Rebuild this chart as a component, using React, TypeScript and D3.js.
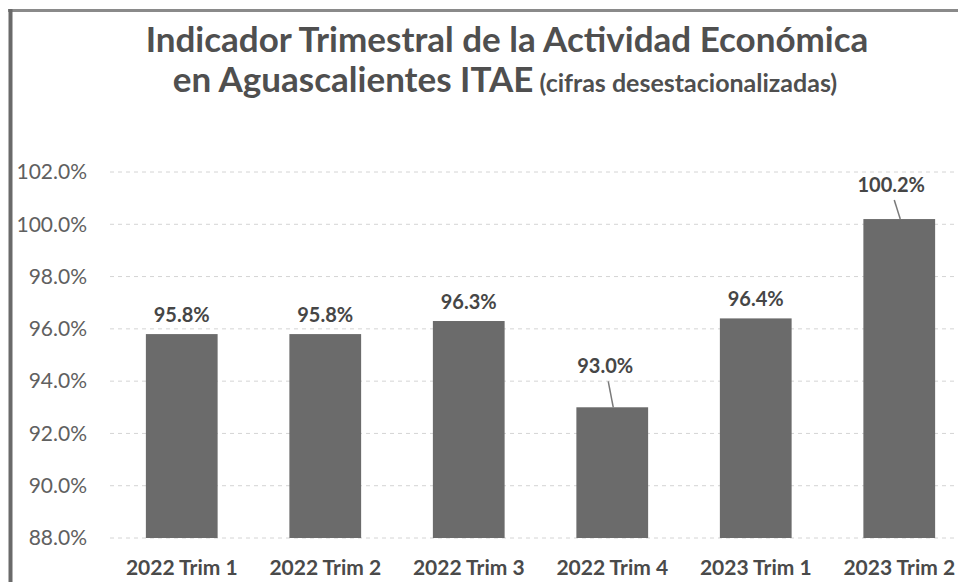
import * as d3 from "d3"

const categories = ["2022 Trim 1", "2022 Trim 2", "2022 Trim 3", "2022 Trim 4", "2023 Trim 1", "2023 Trim 2"]
const values = [95.8, 95.8, 96.3, 93.0, 96.4, 100.2]
const yTicks = [88, 90, 92, 94, 96, 98, 100, 102]
const titleLine1 = "Indicador Trimestral de la Actividad Económica"
const titleLine2 = "en Aguascalientes ITAE"
const titleNote = "(cifras desestacionalizadas)"

const W = 958
const H = 582
const FONT = "Lato, 'Open Sans', sans-serif"

// etiquetas desplazadas con línea guía (como en la hoja)
const nudges: Record<string, { dx: number; dy: number }> = {
  "2022 Trim 4": { dx: -7, dy: -22 },
  "2023 Trim 2": { dx: -8, dy: -15 },
}

export default function App() {
  const left = 110
  const right = 971
  const top = 172
  const bottom = 538

  const x = d3.scaleBand().domain(categories).range([left, right]).paddingInner(0.5).paddingOuter(0.25)
  const y = d3.scaleLinear().domain([88, 102]).range([bottom, top])

  return (
    <div style={{ position: "fixed", left: 0, top: 0, width: W, height: H, background: "#fff" }}>
      <svg width={W} height={H} style={{ display: "block" }}>
        <rect x={0} y={0} width={W} height={H} fill="#fff" />
        {/* marco */}
        <line x1={8} x2={W} y1={10.5} y2={10.5} stroke="#8a8a8a" strokeWidth={3} />
        <line x1={10.5} x2={10.5} y1={9} y2={H} stroke="#6a6a6a" strokeWidth={4} />

        <text x={507} y={52} textAnchor="middle" fontFamily={FONT} fontWeight={700} fontSize={35} fill="#4f4f4f">
          {titleLine1}
        </text>
        <text x={505} y={92} textAnchor="middle" fontFamily={FONT} fontWeight={700} fontSize={35} fill="#4f4f4f">
          {titleLine2}
          <tspan fontSize={25}> {titleNote}</tspan>
        </text>

        {yTicks.map((t) => (
          <g key={t}>
            <line
              x1={left}
              x2={W}
              y1={y(t)}
              y2={y(t)}
              stroke="#d4d4d4"
              strokeWidth={1}
              strokeDasharray="4,4"
            />
            <text
              x={87}
              y={y(t)}
              dy="0.35em"
              textAnchor="end"
              fontFamily={FONT}
              fontSize={21}
              fill="#606060"
            >
              {`${t.toFixed(1)}%`}
            </text>
          </g>
        ))}

        {categories.map((c, i) => {
          const v = values[i]
          const bx = x(c) ?? 0
          const cx = bx + x.bandwidth() / 2
          const n = nudges[c] ?? { dx: 0, dy: 0 }
          const ly = y(v) - 12 + n.dy
          return (
            <g key={c}>
              <rect x={bx} y={y(v)} width={x.bandwidth()} height={bottom - y(v)} fill="#6b6b6b" />
              {n.dy !== 0 && (
                <line x1={cx + n.dx + 3} y1={ly + 8} x2={cx + 1} y2={y(v)} stroke="#7a7a7a" strokeWidth={1.5} />
              )}
              <text
                x={cx + n.dx}
                y={ly}
                textAnchor="middle"
                fontFamily={FONT}
                fontWeight={700}
                fontSize={20}
                fill="#464646"
              >
                {`${v.toFixed(1)}%`}
              </text>
              <text
                x={cx}
                y={575}
                textAnchor="middle"
                fontFamily={FONT}
                fontWeight={700}
                fontSize={21}
                fill="#4a4a4a"
              >
                {c}
              </text>
            </g>
          )
        })}
      </svg>
    </div>
  )
}
